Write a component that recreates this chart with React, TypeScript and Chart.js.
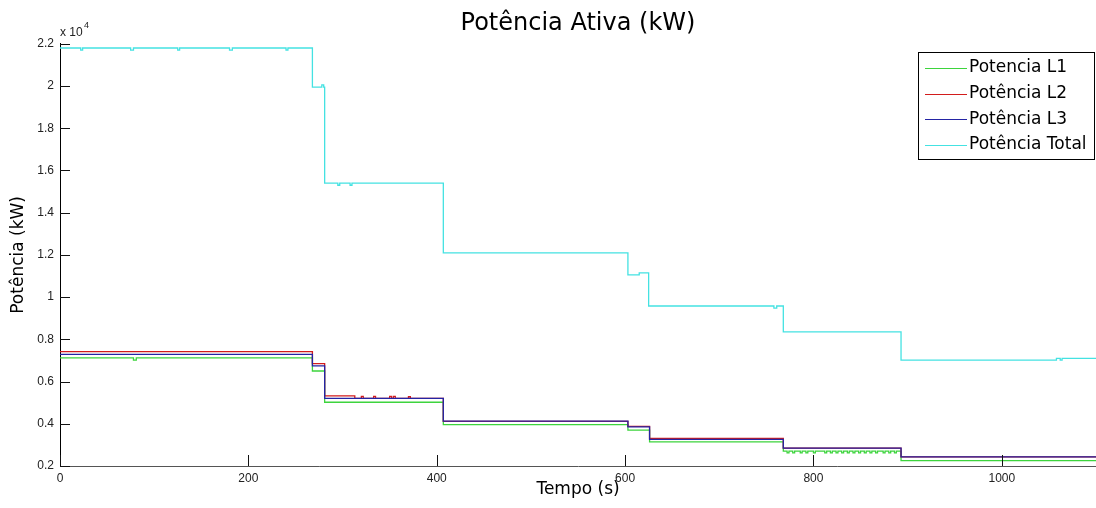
import React, { useEffect, useRef } from 'react';
import { Chart, registerables } from 'chart.js';

Chart.register(...registerables);

// ---- Data ----
const chartTitle = 'Potência Ativa (kW)';
const xTitle = 'Tempo (s)';
const yTitle = 'Potência (kW)';
const seriesLabels = ['Potencia L1', 'Potência L2', 'Potência L3', 'Potência Total'];
const seriesColors = ['#3dd43d', '#d21c1c', '#2424a4', '#44e2e2'];

const xTickValues = [0, 200, 400, 600, 800, 1000];
const yTickValues = [2000, 4000, 6000, 8000, 10000, 12000, 14000, 16000, 18000, 20000, 22000];

// L1 (green)
const timeL1 = [0, 78, 81, 268, 281, 407, 603, 626, 768, 772, 774, 778, 780, 786, 788, 792, 794, 800, 802, 812, 814, 818, 820, 824, 826, 830, 832, 836, 838, 842, 844, 848, 850, 854, 856, 860, 862, 866, 868, 874, 876, 880, 882, 886, 888, 893, 1100];
const valuesL1 = [7120, 7020, 7120, 6500, 5020, 3960, 3700, 3140, 2700, 2620, 2700, 2620, 2700, 2620, 2700, 2620, 2700, 2620, 2700, 2620, 2700, 2620, 2700, 2620, 2700, 2620, 2700, 2620, 2700, 2620, 2700, 2620, 2700, 2620, 2700, 2620, 2700, 2620, 2700, 2620, 2700, 2620, 2700, 2620, 2700, 2250, 2250];

// L2 (red)
const timeL2 = [0, 268, 281, 313, 320, 322, 333, 335, 350, 352, 354, 356, 370, 372, 407, 603, 626, 768, 893, 1100];
const valuesL2 = [7420, 6850, 5320, 5200, 5300, 5200, 5300, 5200, 5300, 5200, 5300, 5200, 5280, 5200, 4110, 3880, 3310, 2850, 2430, 2430];

// L3 (blue)
const timeL3 = [0, 268, 281, 407, 603, 626, 768, 893, 1100];
const valuesL3 = [7290, 6740, 5200, 4130, 3850, 3260, 2850, 2430, 2430];

// Total (cyan)
const timeTotal = [0, 22, 24, 75, 78, 125, 127, 180, 183, 240, 242, 268, 278, 280, 281, 295, 297, 308, 310, 407, 603, 615, 625, 758, 761, 768, 893, 1058, 1062, 1064, 1100];
const valuesTotal = [21800, 21700, 21800, 21700, 21800, 21700, 21800, 21700, 21800, 21700, 21800, 19950, 20050, 19950, 15400, 15300, 15400, 15300, 15400, 12100, 11050, 11150, 9580, 9480, 9580, 8350, 7020, 7100, 7020, 7100, 7100];

const seriesTimes = [timeL1, timeL2, timeL3, timeTotal];
const seriesValues = [valuesL1, valuesL2, valuesL3, valuesTotal];
const seriesOrder = [2, 1, 0, 3];

const toPoints = (t: number[], v: number[]) => t.map((x, i) => ({ x, y: v[i] }));

const fmtY = (v: number) => String(+(v / 10000).toFixed(1));

const decorPlugin = {
  id: 'decor',
  afterDatasetsDraw(chart: any) {
    const { ctx, chartArea, scales } = chart;
    const xs = scales.x;
    const ys = scales.y;
    ctx.save();
    // inward tick marks
    ctx.lineWidth = 1;
    ctx.strokeStyle = '#111';
    xTickValues.forEach((v) => {
      const px = Math.round(xs.getPixelForValue(v)) + 0.5;
      ctx.beginPath();
      ctx.moveTo(px, chartArea.bottom);
      ctx.lineTo(px, chartArea.bottom - 11);
      ctx.stroke();
    });
    yTickValues.forEach((v) => {
      const py = Math.round(ys.getPixelForValue(v)) + 0.5;
      ctx.beginPath();
      ctx.moveTo(chartArea.left, py);
      ctx.lineTo(chartArea.left + 10, py);
      ctx.stroke();
    });
    // exponent label
    ctx.fillStyle = '#222';
    ctx.textBaseline = 'middle';
    ctx.textAlign = 'left';
    ctx.font = '12px "Liberation Sans", Arial, sans-serif';
    ctx.fillText('x 10', chartArea.left, chartArea.top - 11);
    ctx.font = '9px "Liberation Sans", Arial, sans-serif';
    ctx.fillText('4', chartArea.left + 24, chartArea.top - 18);

    // legend
    const lx = 918, ly = 52, lw = 177, lh = 108;
    ctx.fillStyle = '#ffffff';
    ctx.fillRect(lx, ly, lw, lh);
    ctx.strokeStyle = '#000';
    ctx.lineWidth = 1;
    ctx.strokeRect(lx + 0.5, ly + 0.5, lw - 1, lh - 1);
    ctx.font = '17px "DejaVu Sans", sans-serif';
    ctx.textBaseline = 'middle';
    chart.data.datasets.forEach((ds: any, i: number) => {
      const y = ly + 16 + i * 25.6;
      ctx.strokeStyle = ds.borderColor;
      ctx.lineWidth = 1.2;
      ctx.beginPath();
      ctx.moveTo(lx + 7, Math.round(y) + 0.5);
      ctx.lineTo(lx + 49, Math.round(y) + 0.5);
      ctx.stroke();
      ctx.fillStyle = '#000';
      ctx.fillText(ds.label, lx + 51, y);
    });
    ctx.restore();
  },
};

export default function App() {
  const ref = useRef<HTMLCanvasElement | null>(null);
  useEffect(() => {
    document.body.style.margin = '0';
    const canvas = ref.current;
    if (!canvas) return;
    const chart = new Chart(canvas, {
      type: 'line',
      data: {
        datasets: seriesLabels.map((label, i) => ({
          label,
          data: toPoints(seriesTimes[i], seriesValues[i]),
          borderColor: seriesColors[i],
          backgroundColor: seriesColors[i],
          borderWidth: 1.3,
          pointRadius: 0,
          stepped: true,
          fill: false,
          order: seriesOrder[i],
        })),
      },
      options: {
        responsive: false,
        animation: false,
        events: [],
        layout: { padding: 0 },
        plugins: {
          legend: { display: false },
          tooltip: { enabled: false },
          title: {
            display: true,
            text: chartTitle,
            fullSize: false,
            color: '#000',
            font: { family: '"DejaVu Sans", sans-serif', size: 24, weight: 'normal', lineHeight: 1.2 },
            padding: { top: 9, bottom: 6 },
          },
        },
        scales: {
          x: {
            type: 'linear',
            min: 0,
            max: 1100,
            grid: { display: false, drawTicks: false },
            border: { display: true, color: '#555', width: 1 },
            ticks: {
              stepSize: 200,
              includeBounds: false,
              padding: 5,
              color: '#222',
              maxRotation: 0,
              font: { family: '"Liberation Sans", Arial, sans-serif', size: 12 },
              callback: (v: any) => String(v),
            },
            title: {
              display: true,
              text: xTitle,
              color: '#000',
              font: { family: '"DejaVu Sans", sans-serif', size: 17, lineHeight: 1.2 },
              padding: { top: 0, bottom: 8 },
            },
            afterFit: (s: any) => { s.height = 42; },
          },
          y: {
            type: 'linear',
            min: 2000,
            max: 22000,
            grid: { display: false, drawTicks: false },
            border: { display: true, color: '#000', width: 1 },
            ticks: {
              stepSize: 2000,
              padding: 6,
              color: '#222',
              font: { family: '"Liberation Sans", Arial, sans-serif', size: 12 },
              callback: (v: any) => fmtY(Number(v)),
            },
            title: {
              display: true,
              text: yTitle,
              color: '#000',
              font: { family: '"DejaVu Sans", sans-serif', size: 17, lineHeight: 1.2 },
              padding: { top: 8, bottom: 0 },
            },
            afterFit: (s: any) => { s.width = 60; },
          },
        },
      },
      plugins: [decorPlugin],
    });
    return () => chart.destroy();
  }, []);

  return (
    <div style={{ position: 'absolute', left: 0, top: 0 }}>
      <canvas ref={ref} width={1096} height={508} style={{ display: 'block', width: 1096, height: 508 }} />
    </div>
  );
}
